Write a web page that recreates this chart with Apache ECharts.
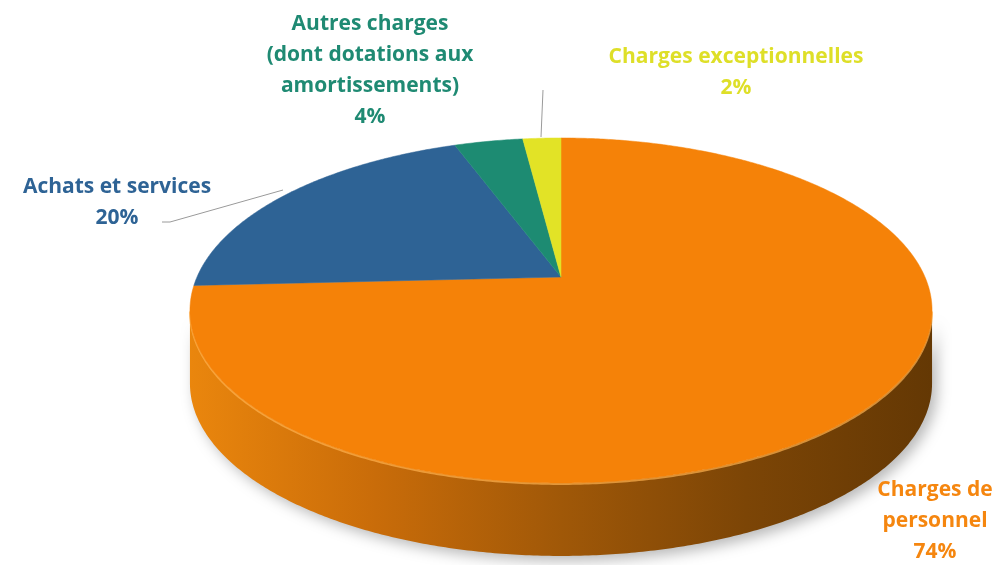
<!DOCTYPE html>
<html><head><meta charset="utf-8">
<script src="https://cdn.jsdelivr.net/npm/echarts@6/dist/echarts.min.js"></script>
<style>html,body{margin:0;padding:0;background:#fff}#c{width:1002px;height:565px}</style>
</head><body><div id="c"></div>
<script>
// ---- data ----
const categories = ['Charges de\npersonnel', 'Achats et services', 'Autres charges\n(dont dotations aux\namortissements)', 'Charges exceptionnelles'];
const values = [74.2, 20.2, 3.6, 2.0];
const colors = ['#f58208', '#2e6395', '#1d8b72', '#e2e326'];
const labelColors = ['#f5860f', '#2e6395', '#1f8a73', '#dedf28'];

// ---- layout (projected 3D disc) ----
const CX = 561, CY = 277, A = 364, B = 166, P = 0.194, H = 73;
const labelPos = [[935, 521], [117, 203], [370, 71], [736, 73]];

const total = values.reduce((a, b) => a + b, 0);
let acc = 0;
const sliceData = values.map((v, i) => { const s = acc; acc += v; return [i, s / total, acc / total]; });

function proj(t, dy) {
  const w = 1 + P * Math.cos(t);
  return [CX + A * Math.sin(t) / w, CY - B * Math.cos(t) / w + (dy || 0)];
}
function arc(t0, t1, dy) {
  const pts = [];
  const n = Math.max(2, Math.ceil(Math.abs(t1 - t0) / (Math.PI / 360)));
  for (let k = 0; k <= n; k++) pts.push(proj(t0 + (t1 - t0) * k / n, dy));
  return pts;
}
const tVisA = Math.acos(-P), tVisB = 2 * Math.PI - Math.acos(-P);

const chart = echarts.init(document.getElementById('c'), null, { renderer: 'canvas' });
chart.setOption({
  animation: false,
  series: [
    {
      type: 'custom', coordinateSystem: 'none', z: 1, data: sliceData,
      renderItem: function (params, api) {
        const t0 = Math.max(api.value(1) * 2 * Math.PI, tVisA);
        const t1 = Math.min(api.value(2) * 2 * Math.PI, tVisB);
        if (t1 <= t0) return { type: 'group', children: [] };
        const top = arc(t0, t1, 0), bot = arc(t1, t0, H);
        return {
          type: 'group', children: [
            { type: 'polygon', shape: { points: top.concat(bot) },
              style: { fill: new echarts.graphic.LinearGradient(0, 0, 1, 0, [
                { offset: 0, color: '#ea860d' }, { offset: 0.25, color: '#c96c09' },
                { offset: 0.5, color: '#a05808' }, { offset: 0.75, color: '#7c4506' },
                { offset: 1, color: '#643804' }]),
                shadowBlur: 14, shadowColor: 'rgba(0,0,0,0.28)', shadowOffsetX: 5, shadowOffsetY: 5 } },
            { type: 'polyline', shape: { points: arc(t0, t1, 1) },
              style: { stroke: 'rgba(255,178,80,0.7)', lineWidth: 2, fill: null } }
          ]
        };
      }
    },
    {
      type: 'custom', coordinateSystem: 'none', z: 2, data: sliceData,
      renderItem: function (params, api) {
        const i = api.value(0);
        const t0 = api.value(1) * 2 * Math.PI, t1 = api.value(2) * 2 * Math.PI;
        return { type: 'polygon', shape: { points: [[CX, CY]].concat(arc(t0, t1, 0)) },
          style: { fill: colors[i], stroke: colors[i], lineWidth: 0.5 } };
      }
    }
  ],
  graphic: values.map((v, i) => ({
    type: 'text', z: 10,
    style: {
      text: categories[i] + '\n' + Math.round(v / total * 100) + '%',
      x: labelPos[i][0], y: labelPos[i][1], align: 'center', verticalAlign: 'middle',
      font: 'bold 21px "Open Sans"', lineHeight: 31, fill: labelColors[i]
    }
  })).concat([
    { type: 'polyline', z: 10, shape: { points: [[162, 222], [170, 222], [283, 190]] }, style: { stroke: '#9a9a9a', lineWidth: 1, fill: null } },
    { type: 'polyline', z: 10, shape: { points: [[543, 90], [541, 137]] }, style: { stroke: '#9a9a9a', lineWidth: 1, fill: null } }
  ])
});
</script></body></html>
